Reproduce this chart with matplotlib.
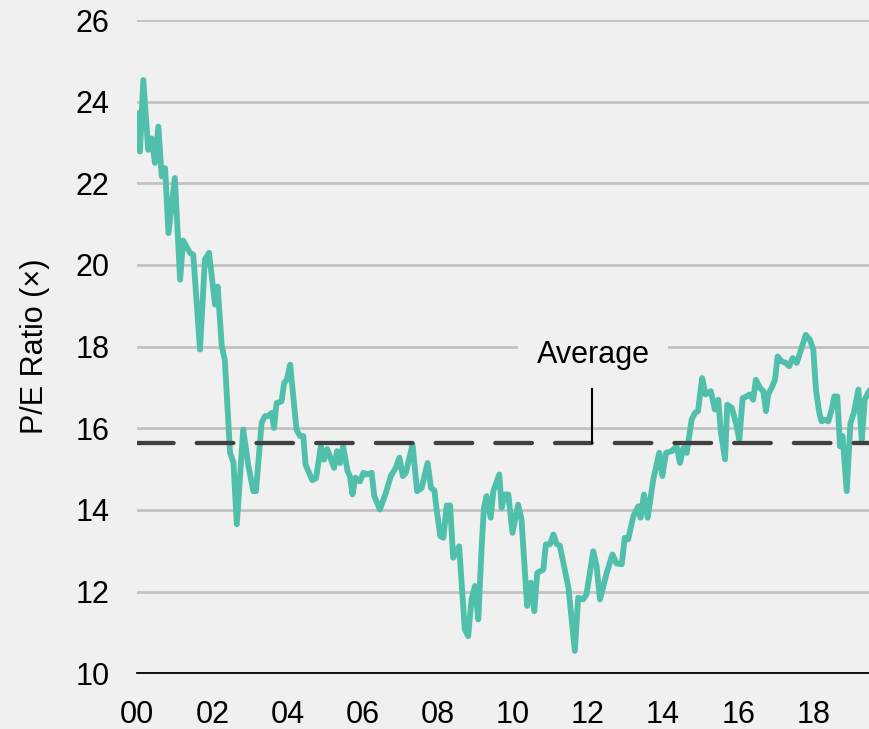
import matplotlib
matplotlib.use("Agg")
import matplotlib.pyplot as plt

plt.rcParams['font.family'] = ['Liberation Sans', 'DejaVu Sans']

# monthly-ish P/E readings (year fraction, P/E)
years = [
    2000.03, 2000.07, 2000.16, 2000.29, 2000.38, 2000.47, 2000.56, 2000.65, 2000.74, 2000.83,
    2001.00, 2001.14, 2001.22, 2001.40, 2001.49, 2001.67, 2001.80, 2001.91, 2002.07, 2002.14,
    2002.25, 2002.33, 2002.47, 2002.56, 2002.65, 2002.82, 2002.96, 2003.09, 2003.16, 2003.31,
    2003.40, 2003.49, 2003.58, 2003.64, 2003.71, 2003.84, 2003.91, 2003.98, 2004.07, 2004.24,
    2004.33, 2004.42, 2004.48, 2004.66, 2004.76, 2004.89, 2004.97, 2005.06, 2005.24, 2005.32,
    2005.40, 2005.48, 2005.60, 2005.66, 2005.73, 2005.81, 2005.93, 2006.02, 2006.12, 2006.24,
    2006.31, 2006.46, 2006.62, 2006.75, 2006.88, 2006.98, 2007.07, 2007.15, 2007.33, 2007.45,
    2007.57, 2007.73, 2007.82, 2007.91, 2007.97, 2008.07, 2008.15, 2008.24, 2008.33, 2008.41,
    2008.57, 2008.72, 2008.81, 2008.90, 2008.99, 2009.08, 2009.17, 2009.23, 2009.30, 2009.41,
    2009.48, 2009.64, 2009.70, 2009.79, 2009.88, 2009.99, 2010.14, 2010.23, 2010.38, 2010.48,
    2010.57, 2010.65, 2010.81, 2010.88, 2010.99, 2011.08, 2011.17, 2011.25, 2011.48, 2011.65,
    2011.74, 2011.87, 2011.96, 2012.14, 2012.23, 2012.32, 2012.50, 2012.65, 2012.76, 2012.90,
    2012.98, 2013.07, 2013.21, 2013.34, 2013.40, 2013.49, 2013.59, 2013.74, 2013.90, 2013.98,
    2014.08, 2014.23, 2014.36, 2014.45, 2014.54, 2014.63, 2014.76, 2014.85, 2014.93, 2015.04,
    2015.13, 2015.27, 2015.38, 2015.47, 2015.54, 2015.65, 2015.71, 2015.83, 2015.94, 2016.03,
    2016.12, 2016.22, 2016.31, 2016.40, 2016.47, 2016.58, 2016.67, 2016.74, 2016.80, 2016.89,
    2016.98, 2017.05, 2017.16, 2017.27, 2017.36, 2017.45, 2017.56, 2017.66, 2017.80, 2017.91,
    2018.00, 2018.07, 2018.16, 2018.22, 2018.31, 2018.40, 2018.49, 2018.56, 2018.64, 2018.71,
    2018.78, 2018.89, 2018.99, 2019.08, 2019.20, 2019.29, 2019.37, 2019.46, 2019.56,
]
pe_ratio = [
    23.72, 22.78, 24.53, 22.82, 23.10, 22.50, 23.39, 22.17, 22.37, 20.78,
    22.13, 19.64, 20.60, 20.30, 20.25, 17.93, 20.13, 20.30, 19.03, 19.47,
    18.00, 17.68, 15.40, 15.16, 13.65, 15.97, 15.07, 14.46, 14.46, 16.13,
    16.30, 16.30, 16.38, 16.01, 16.62, 16.66, 17.11, 17.19, 17.56, 15.97,
    15.81, 15.81, 15.11, 14.73, 14.78, 15.56, 15.23, 15.49, 15.03, 15.44,
    15.15, 15.56, 14.95, 14.83, 14.38, 14.79, 14.70, 14.91, 14.87, 14.91,
    14.34, 14.01, 14.42, 14.83, 15.03, 15.28, 14.83, 14.91, 15.60, 14.46,
    14.54, 15.15, 14.54, 14.48, 14.01, 13.36, 13.32, 14.11, 14.11, 12.83,
    13.11, 11.08, 10.91, 11.81, 12.14, 11.32, 13.11, 14.05, 14.34, 13.81,
    14.46, 14.87, 14.05, 14.38, 14.38, 13.44, 14.13, 13.77, 11.65, 12.22,
    11.52, 12.46, 12.54, 13.16, 13.16, 13.40, 13.16, 13.13, 12.10, 10.55,
    11.85, 11.81, 11.93, 12.99, 12.62, 11.81, 12.46, 12.91, 12.69, 12.67,
    13.32, 13.28, 13.85, 14.09, 13.81, 14.38, 13.81, 14.75, 15.40, 14.83,
    15.40, 15.44, 15.56, 15.15, 15.52, 15.40, 16.21, 16.38, 16.42, 17.23,
    16.83, 16.91, 16.46, 16.70, 15.89, 15.24, 16.58, 16.50, 16.13, 15.72,
    16.74, 16.78, 16.83, 16.70, 17.19, 16.99, 16.91, 16.42, 16.83, 16.99,
    17.19, 17.76, 17.64, 17.60, 17.52, 17.72, 17.60, 17.89, 18.29, 18.17,
    17.93, 16.95, 16.38, 16.17, 16.21, 16.17, 16.46, 16.78, 16.78, 15.56,
    15.81, 14.46, 16.13, 16.38, 16.95, 15.72, 16.70, 16.87, 17.00,
]
avg_pe = 15.65

xtick_years = [2000, 2002, 2004, 2006, 2008, 2010, 2012, 2014, 2016, 2018]
xtick_labels = ['00', '02', '04', '06', '08', '10', '12', '14', '16', '18']
ytick_values = [10, 12, 14, 16, 18, 20, 22, 24, 26]

bg = '#f0f0f0'
teal = '#50bfac'

fig = plt.figure(figsize=(8.7, 7.29), dpi=100, facecolor=bg)
ax = fig.add_axes([137.3 / 870, 55.7 / 729, 1 - 137.3 / 870, (673.3 - 20) / 729])
ax.set_facecolor(bg)

ax.plot(years, pe_ratio, color=teal, linewidth=4.2, solid_joinstyle='round',
        solid_capstyle='round', zorder=3)

# average line with label
ax.axhline(avg_pe, color='#404040', linewidth=3.1, dashes=(8.5, 5.37),
           dash_capstyle='round', zorder=4)
ax.plot([2012.10, 2012.10], [avg_pe, 17.2], color='black', linewidth=1.5, zorder=4)
ax.text(2012.14, 17.8, 'Average', fontsize=22, ha='center', va='center', zorder=5,
        bbox=dict(boxstyle='square,pad=0.6', facecolor=bg, edgecolor='none'))

ax.set_xlim(2000, 2019.51)
ax.set_ylim(10, 26)
ax.set_xticks(xtick_years)
ax.set_xticklabels(xtick_labels)
ax.set_yticks(ytick_values)
ax.tick_params(axis='both', length=0, labelsize=22, colors='black')
ax.tick_params(axis='x', pad=19)
ax.tick_params(axis='y', pad=20)

ax.set_axisbelow(True)
ax.yaxis.grid(True, color='#c2c2c2', linewidth=2)
ax.xaxis.grid(False)
for side in ['left', 'right', 'top']:
    ax.spines[side].set_visible(False)
ax.spines['bottom'].set_color('black')
ax.spines['bottom'].set_linewidth(1.3)

ax.set_ylabel('P/E Ratio (×)', fontsize=22, labelpad=18)

fig.savefig('out.png', dpi=100, facecolor=bg)
